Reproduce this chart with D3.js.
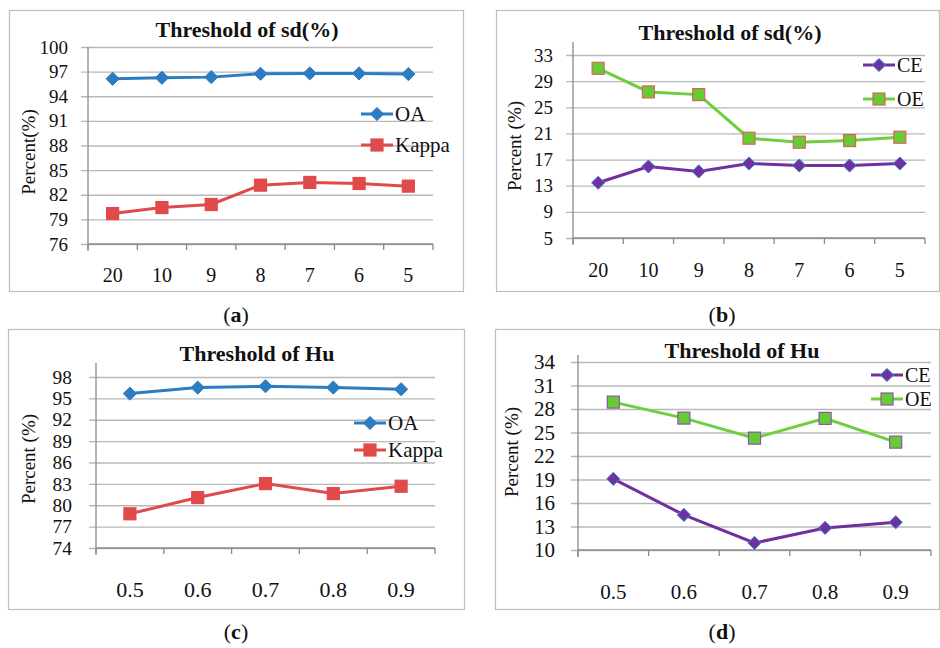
<!DOCTYPE html>
<html>
<head>
<meta charset="utf-8">
<script src="https://cdn.jsdelivr.net/npm/d3@7"></script>
<style>
  body { margin: 0; background: #fff; }
  svg { display: block; }
  svg text { font-family: "Liberation Serif", "DejaVu Serif", serif; }
</style>
</head>
<body>
<svg id="chart" width="940" height="648"></svg>
<script>
// categories
var sdCategories = ["20", "10", "9", "8", "7", "6", "5"];
var huCategories = ["0.5", "0.6", "0.7", "0.8", "0.9"];

// (a) accuracy vs sd threshold
var sdOA    = [96.13, 96.25, 96.33, 96.74, 96.78, 96.78, 96.70];
var sdKappa = [79.71, 80.44, 80.81, 83.17, 83.50, 83.37, 83.05];
// (b) errors vs sd threshold
var sdCE = [13.45, 15.94, 15.18, 16.40, 16.09, 16.09, 16.40];
var sdOE = [30.96, 27.35, 26.94, 20.27, 19.66, 19.91, 20.42];
// (c) accuracy vs Hu threshold
var huOA    = [95.67, 96.51, 96.70, 96.51, 96.28];
var huKappa = [78.80, 81.08, 83.04, 81.64, 82.67];
// (d) errors vs Hu threshold
var huCE = [19.08, 14.48, 10.90, 12.82, 13.54];
var huOE = [28.88, 26.84, 24.28, 26.80, 23.77];

// y tick labels
var ticksA = [76, 79, 82, 85, 88, 91, 94, 97, 100];
var ticksB = [5, 9, 13, 17, 21, 25, 29, 33];
var ticksC = [74, 77, 80, 83, 86, 89, 92, 95, 98];
var ticksD = [10, 13, 16, 19, 22, 25, 28, 31, 34];

var svg = d3.select("#chart");

var styles = {
    OA:    { line: "#2b7cc0", fill: "#2b7cc0", stroke: "#2b7cc0", shape: "diamond" },
    Kappa: { line: "#e04a4a", fill: "#e04a4a", stroke: "#e04a4a", shape: "square" },
    CE:    { line: "#7030a0", fill: "#7030a0", stroke: "#3a86c8", shape: "diamond" },
    OE:    { line: "#6dcf3e", fill: "#66cc33", stroke: "#e06060", shape: "square" }
};

var panels = [
    { frame: [9, 10, 454, 281], plot: [88, 47, 433, 244], axisTop: 47, ticks: ticksA,
      cats: sdCategories, title: "Threshold of sd(%)", titleX: 247, titleY: 37,
      ylabel: "Percent(%)", ylabelX: 35, ylabelY: 152, yFont: 19, xFont: 20, pad: 20, xlabY: 282,
      series: [["OA", sdOA], ["Kappa", sdKappa]], legend: [361, 114, 31], legFont: 21, oeStroke: null,
      caption: "a", capX: 236, capY: 322 },
    { frame: [496, 10, 443, 281], plot: [573, 55, 925, 238], axisTop: 42, ticks: ticksB,
      cats: sdCategories, title: "Threshold of sd(%)", titleX: 730, titleY: 40,
      ylabel: "Percent (%)", ylabelX: 521, ylabelY: 146, yFont: 19, xFont: 20, pad: 20, xlabY: 277,
      series: [["CE", sdCE], ["OE", sdOE]], legend: [863, 65, 34], legFont: 20, oeStroke: "#e06060",
      caption: "b", capX: 722, capY: 322 },
    { frame: [8, 329, 456, 280], plot: [96, 377, 435, 548], axisTop: 363, ticks: ticksC,
      cats: huCategories, title: "Threshold of Hu", titleX: 257, titleY: 361,
      ylabel: "Percent (%)", ylabelX: 35, ylabelY: 459, yFont: 19.4, xFont: 22, pad: 24, xlabY: 597,
      series: [["OA", huOA], ["Kappa", huKappa]], legend: [354, 423, 27], legFont: 21, oeStroke: null,
      caption: "c", capX: 236, capY: 639 },
    { frame: [495, 329, 444, 280], plot: [578, 362, 931, 550], axisTop: 355, ticks: ticksD,
      cats: huCategories, title: "Threshold of Hu", titleX: 742, titleY: 358,
      ylabel: "Percent (%)", ylabelX: 518, ylabelY: 452, yFont: 21, xFont: 21, pad: 23, xlabY: 599,
      series: [["CE", huCE], ["OE", huOE]], legend: [871, 375, 24], legFont: 20, oeStroke: "#9050b0",
      caption: "d", capX: 722, capY: 639 }
];

function marker(g, shape, x, y, st, size) {
    if (shape === "diamond") {
        var r = size * 0.55;
        g.append("path")
            .attr("d", "M" + x + "," + (y - r) + "L" + (x + r) + "," + y + "L" + x + "," + (y + r) + "L" + (x - r) + "," + y + "Z")
            .attr("fill", st.fill)
            .attr("stroke", st.stroke)
            .attr("stroke-width", 1);
    } else {
        var h = size / 2;
        g.append("rect")
            .attr("x", x - h).attr("y", y - h)
            .attr("width", size).attr("height", size)
            .attr("fill", st.fill)
            .attr("stroke", st.stroke)
            .attr("stroke-width", 1.2);
    }
}

panels.forEach(function (p) {
    var g = svg.append("g");

    // outer frame
    g.append("rect")
        .attr("x", p.frame[0] + 0.5).attr("y", p.frame[1] + 0.5)
        .attr("width", p.frame[2]).attr("height", p.frame[3])
        .attr("fill", "#fff")
        .attr("stroke", "#bdbdbd")
        .attr("stroke-width", 1.2);

    var x = d3.scaleBand()
        .domain(p.cats)
        .range([p.plot[0], p.plot[2]]);
    var y = d3.scaleLinear()
        .domain([p.ticks[0], p.ticks[p.ticks.length - 1]])
        .range([p.plot[3], p.plot[1]]);

    // gridlines + y ticks
    var yAxis = d3.axisLeft(y)
        .tickValues(p.ticks)
        .tickSize(-(p.plot[2] - p.plot[0]))
        .tickPadding(p.pad)
        .tickSizeOuter(0);
    var ya = g.append("g")
        .attr("transform", "translate(" + p.plot[0] + ",0)")
        .call(yAxis);
    ya.select(".domain").remove();
    ya.selectAll(".tick line")
        .attr("x1", -7)
        .attr("stroke", "#b8b8b8")
        .attr("stroke-width", 1.3);
    ya.selectAll(".tick text")
        .attr("font-size", p.yFont)
        .attr("font-family", null)
        .attr("fill", "#111")
        .attr("x", -p.pad);

    // y axis line
    g.append("line")
        .attr("x1", p.plot[0]).attr("x2", p.plot[0])
        .attr("y1", p.axisTop).attr("y2", p.plot[3] + 7)
        .attr("stroke", "#8a8a8a")
        .attr("stroke-width", 1.3);

    // x axis
    var xa = g.append("g")
        .attr("transform", "translate(0," + p.plot[3] + ")");
    xa.append("line")
        .attr("x1", p.plot[0]).attr("x2", p.plot[2])
        .attr("stroke", "#8a8a8a")
        .attr("stroke-width", 1.3);
    var edges = p.cats.map(function (c) { return x(c); }).concat([p.plot[2]]);
    xa.selectAll("line.tk")
        .data(edges)
        .enter().append("line")
        .attr("class", "tk")
        .attr("x1", function (d) { return d; })
        .attr("x2", function (d) { return d; })
        .attr("y1", 0).attr("y2", 6)
        .attr("stroke", "#8a8a8a")
        .attr("stroke-width", 1.3);
    g.selectAll("text.xl")
        .data(p.cats)
        .enter().append("text")
        .attr("class", "xl")
        .attr("x", function (d) { return x(d) + x.bandwidth() / 2; })
        .attr("y", p.xlabY)
        .attr("text-anchor", "middle")
        .attr("font-size", p.xFont)
        .attr("fill", "#111")
        .text(function (d) { return d; });

    // title
    g.append("text")
        .attr("x", p.titleX).attr("y", p.titleY)
        .attr("text-anchor", "middle")
        .attr("font-size", 22)
        .attr("font-weight", "bold")
        .attr("fill", "#111")
        .text(p.title);

    // y label
    g.append("text")
        .attr("transform", "translate(" + p.ylabelX + "," + p.ylabelY + ") rotate(-90)")
        .attr("text-anchor", "middle")
        .attr("font-size", 19)
        .attr("fill", "#111")
        .text(p.ylabel);

    // series
    p.series.forEach(function (s, i) {
        var st = Object.assign({}, styles[s[0]]);
        if (s[0] === "OE") st.stroke = p.oeStroke;
        var line = d3.line()
            .x(function (d, j) { return x(p.cats[j]) + x.bandwidth() / 2; })
            .y(function (d) { return y(d); });
        g.append("path")
            .datum(s[1])
            .attr("d", line)
            .attr("fill", "none")
            .attr("stroke", st.line)
            .attr("stroke-width", 3);
        s[1].forEach(function (v, j) {
            marker(g, st.shape, x(p.cats[j]) + x.bandwidth() / 2, y(v), st, 12);
        });

        // legend entry
        var lx = p.legend[0], ly = p.legend[1] + i * p.legend[2];
        g.append("line")
            .attr("x1", lx).attr("x2", lx + 32)
            .attr("y1", ly).attr("y2", ly)
            .attr("stroke", st.line)
            .attr("stroke-width", 3);
        marker(g, st.shape, lx + 16, ly, st, 12);
        g.append("text")
            .attr("x", lx + 34).attr("y", ly + 7)
            .attr("font-size", p.legFont)
            .attr("fill", "#111")
            .text(s[0]);
    });

    // caption
    var cap = svg.append("text")
        .attr("x", p.capX).attr("y", p.capY)
        .attr("text-anchor", "middle")
        .attr("font-size", 22)
        .attr("fill", "#111");
    cap.append("tspan").text("(");
    cap.append("tspan").attr("font-weight", "bold").text(p.caption);
    cap.append("tspan").text(")");
});
</script>
</body>
</html>
